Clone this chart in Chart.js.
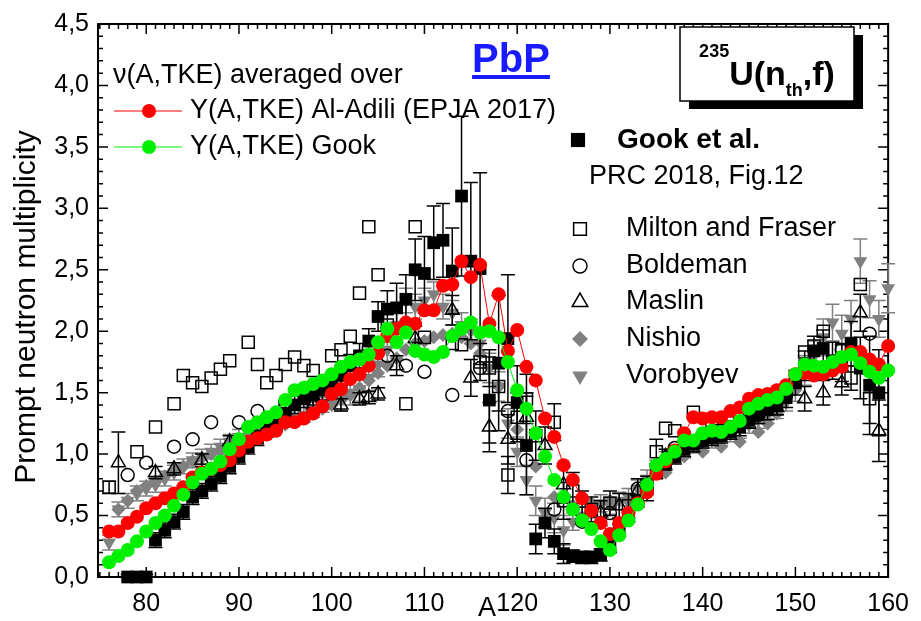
<!DOCTYPE html>
<html>
<head>
<meta charset="utf-8">
<script src="https://cdn.jsdelivr.net/npm/chart.js@4.4.0/dist/chart.umd.min.js"></script>
<style>
  html, body { margin: 0; padding: 0; background: #fff; }
  canvas { display: block; }
</style>
</head>
<body>
<canvas id="c" width="921" height="621"></canvas>
<script>
const FONT = '"Liberation Sans", Arial, Helvetica, sans-serif';

// Mass numbers of the two PbP calculations
const massA = [76,77,78,79,80,81,82,83,84,85,86,87,88,89,90,91,92,93,94,95,96,97,98,99,100,
  101,102,103,104,105,106,107,108,109,110,111,112,113,114,115,116,117,118,119,120,
  121,122,123,124,125,126,127,128,129,130,131,132,133,134,135,136,137,138,139,140,
  141,142,143,144,145,146,147,148,149,150,151,152,153,154,155,156,157,158,159,160];

// nu(A) averaged over Y(A,TKE) of Al-Adili (EPJA 2017)
const nuAlAdili = [0.37,0.37,0.44,0.49,0.56,0.60,0.64,0.68,0.73,0.81,
  0.85,0.88,0.91,0.95,1.03,1.10,1.13,1.16,1.19,1.26,
  1.26,1.29,1.33,1.39,1.49,1.53,1.61,1.65,1.72,1.82,
  1.96,2.02,2.07,2.06,2.17,2.17,2.37,2.38,2.57,2.44,
  2.54,2.06,2.30,1.84,2.01,1.71,1.60,1.29,1.14,0.91,
  0.79,0.64,0.54,0.44,0.35,0.44,0.52,0.60,0.69,0.84,
  0.94,1.03,1.17,1.30,1.29,1.30,1.30,1.35,1.38,1.45,
  1.48,1.49,1.52,1.56,1.65,1.66,1.64,1.65,1.68,1.71,
  1.83,1.83,1.77,1.73,1.88];

// nu(A) averaged over Y(A,TKE) of Gook
const nuGookYield = [0.12,0.17,0.22,0.29,0.37,0.44,0.50,0.58,0.67,0.77,
  0.84,0.88,0.94,1.04,1.12,1.22,1.26,1.30,1.34,1.44,
  1.52,1.54,1.57,1.60,1.65,1.71,1.75,1.77,1.81,1.91,
  2.02,1.91,1.99,1.84,1.81,1.79,1.83,1.96,2.02,2.07,
  1.99,2.00,1.95,1.75,1.52,1.37,1.17,0.98,0.79,0.65,
  0.55,0.46,0.39,0.29,0.22,0.34,0.46,0.59,0.75,0.91,
  0.96,1.02,1.11,1.11,1.17,1.19,1.18,1.22,1.27,1.37,
  1.41,1.44,1.46,1.53,1.65,1.73,1.72,1.71,1.75,1.79,
  1.81,1.74,1.67,1.62,1.68];

// Gook et al., PRC 2018, Fig.12
const gookA = [78,79,80,81,82,83,84,85,86,87,88,89,90,91,92,93,94,95,96,97,98,99,100,
  101,102,103,104,105,106,107,108,109,110,111,112,113,114,115,116,117,118,119,120,
  121,122,123,124,125,126,127,128,129,130,131,132,133,134,135,136,137,138,139,140,
  141,142,143,144,145,146,147,148,149,150,151,152,153,154,155,156,157,158,159];
const gookNu = [0.00,0.00,0.00,
  0.30,0.38,0.45,0.53,0.65,0.70,0.76,0.82,0.90,0.98,
  1.06,1.13,1.20,1.27,1.33,1.40,1.45,1.48,1.52,1.57,
  1.64,1.72,1.80,1.92,2.12,2.18,2.19,2.26,2.50,2.47,
  2.72,2.74,2.49,3.10,2.57,2.51,1.44,1.74,1.94,1.42,
  1.07,0.31,0.44,0.29,0.19,0.17,0.16,0.16,0.18,0.25,
  0.38,0.50,0.62,0.74,0.85,0.92,0.98,1.04,1.08,1.11,
  1.13,1.15,1.18,1.22,1.28,1.32,1.36,1.40,1.46,1.58,
  1.72,1.84,1.86,1.76,1.74,1.90,1.70,1.56,1.50];
const gookErr = [0.02,0.02,0.02,
  0.06,0.06,0.06,0.06,0.06,0.06,0.06,0.06,0.06,0.06,
  0.06,0.06,0.06,0.07,0.07,0.07,0.07,0.08,0.08,0.08,
  0.08,0.09,0.10,0.10,0.12,0.15,0.20,0.20,0.25,0.30,
  0.30,0.30,0.35,0.65,0.64,0.78,0.35,0.55,0.52,0.30,
  0.40,0.12,0.12,0.10,0.08,0.05,0.05,0.05,0.05,0.05,
  0.05,0.05,0.05,0.05,0.05,0.05,0.06,0.06,0.06,0.06,
  0.06,0.06,0.06,0.07,0.07,0.07,0.08,0.08,0.08,0.10,
  0.12,0.12,0.15,0.15,0.15,0.18,0.25,0.40,0.35];

// Milton and Fraser
const miltonA = [76,79,81,83,84,85,86,87,88,89,91,92,93,94,95,96,97,98,100,101,102,103,104,105,106,
  108,109,110,113,114,116,117,118,119,120,121,122,124,125,126,128,130,132,134,135,136,137,139,
  141,144,147,150,151,152,153,155,156,157,158];
const miltonNu = [0.73,1.02,1.22,1.41,1.64,1.58,1.55,1.62,1.69,1.76,1.91,1.73,1.58,1.64,1.73,1.79,1.72,1.68,1.80,1.85,1.96,2.31,2.85,2.46,2.05,
  1.41,2.85,1.95,1.90,1.89,1.75,1.70,1.55,0.83,1.30,1.45,1.15,1.26,0.62,0.70,0.55,0.60,0.58,0.72,1.02,1.21,1.19,1.34,
  1.22,1.30,1.42,1.60,1.83,1.88,2.00,1.85,1.62,2.38,1.45];
const miltonErr = [0.05,0,0,0,0,0,0,0,0,0,0,0,0,0,0,0,0,0,0,0,0,0,0,0,0,
  0,0,0,0,0,0.15,0.15,0.2,0.15,0.2,0.2,0.2,0.15,0.15,0.15,0.1,0.1,0.1,0.1,0.1,0,0,0,
  0,0,0,0,0,0,0,0,0.1,0,0.2];

// Boldeman
const boldemanA = [78,80,83,85,87,90,92,95,98,101,104,106,108,110,113,116,119,121,124,127,130,133,137,140,143,146,149,152,155,158];
const boldemanNu = [0.83,0.93,1.06,1.12,1.26,1.26,1.35,1.42,1.52,1.66,1.87,1.80,1.72,1.67,1.48,1.70,1.35,0.95,0.55,0.45,0.52,0.72,1.05,1.12,1.22,1.32,1.48,1.68,1.85,1.98];

// Maslin
const maslinA = [77,81,83,86,89,92,95,98,101,103,104,105,107,109,113,115,117,119,121,123,125,127,129,131,133,136,139,142,145,148,151,153,155,157,159];
const maslinNu = [0.93,0.85,0.88,0.95,1.10,1.22,1.32,1.40,1.40,1.45,1.46,1.49,1.72,1.94,2.17,1.62,1.22,1.12,1.30,1.07,0.75,0.60,0.52,0.58,0.70,0.98,1.08,1.18,1.28,1.38,1.45,1.50,1.58,2.15,1.19];
const maslinErr = [0.25,0.05,0.05,0.05,0.05,0.05,0.05,0.05,0.05,0.05,0.05,0.05,0.08,0.1,0.12,0.15,0.2,0.2,0.2,0.15,0.15,0.1,0.1,0.1,0.1,0.06,0.06,0.06,0.06,0.06,0.1,0.1,0.1,0.15,0.25];

// Nishio
const nishioA = [77,78,79,80,81,82,83,84,85,86,87,88,89,90,91,92,93,94,95,96,97,98,99,100,
  101,102,103,104,105,106,107,108,109,110,111,112,113,114,115,116,
  118,120,122,124,126,128,130,132,134,136,138,140,142,144,146,147,148,149,150];
const nishioNu = [0.55,0.62,0.70,0.74,0.78,0.82,0.86,0.90,0.94,0.97,1.00,1.03,1.06,1.10,1.12,1.15,1.18,1.21,1.24,1.27,1.30,1.33,1.37,1.40,
  1.44,1.48,1.54,1.60,1.66,1.72,1.78,1.85,1.90,1.92,1.95,1.97,1.98,1.95,1.90,1.82,
  1.55,1.20,0.90,0.65,0.58,0.60,0.62,0.62,0.70,0.85,0.98,1.02,1.06,1.10,1.18,1.25,1.33,1.45,1.52];

// Vorobyev
const vorobyevA = massA;
const vorobyevNu = [0.28,0.55,0.62,0.68,0.72,0.75,0.80,0.85,0.90,0.95,
  0.98,1.02,1.06,1.10,1.14,1.17,1.20,1.22,1.25,1.28,
  1.30,1.32,1.36,1.40,1.43,1.45,1.50,1.53,1.62,1.73,
  1.85,2.05,2.25,2.20,2.25,2.30,2.20,2.15,2.05,2.00,
  1.90,1.70,1.55,1.25,1.02,0.79,0.62,0.52,0.48,0.38,
  0.45,0.50,0.55,0.60,0.58,0.62,0.65,0.72,0.80,0.88,
  0.95,1.00,1.04,1.08,1.10,1.12,1.14,1.17,1.20,1.24,
  1.28,1.32,1.36,1.42,1.55,1.68,1.80,1.95,2.07,1.98,
  2.10,2.57,2.26,2.10,2.35];
const vorobyevErr = [0.06,0.06,0.06,0.06,0.06,0.06,0.06,0.06,0.06,0.06,
  0.06,0.06,0.06,0.06,0.06,0.06,0.06,0.06,0.06,0.06,
  0.06,0.06,0.06,0.06,0.06,0.10,0.10,0.10,0.10,0.10,
  0.10,0.10,0.10,0.10,0.10,0.10,0.10,0.10,0.10,0.10,
  0.10,0.12,0.12,0.12,0.12,0.12,0.12,0.12,0.12,0.12,
  0.07,0.07,0.07,0.07,0.07,0.07,0.07,0.07,0.07,0.07,
  0.07,0.07,0.07,0.07,0.07,0.07,0.07,0.07,0.07,0.07,
  0.07,0.07,0.07,0.07,0.12,0.12,0.12,0.15,0.15,0.15,
  0.15,0.18,0.15,0.15,0.20];

// Axis tick labels
const yTickLabels = ['0,0','0,5','1,0','1,5','2,0','2,5','3,0','3,5','4,0','4,5'];
const xTickLabels = ['80','90','100','110','120','130','140','150','160'];

const RED = '#ff0000', GREEN = '#00f000', GRAY = '#808080';

const pts = (xs, ys) => xs.map((x, i) => ({x, y: ys[i]}));

const datasets = [
  { label: 'Y(A,TKE) Gook', data: pts(massA, nuGookYield), showLine: true,
    borderColor: GREEN, borderWidth: 1, pointRadius: 7, pointHoverRadius: 7,
    pointBackgroundColor: GREEN, pointBorderWidth: 0, clip: false },
  { label: 'Y(A,TKE) Al-Adili (EPJA 2017)', data: pts(massA, nuAlAdili), showLine: true,
    borderColor: RED, borderWidth: 1, pointRadius: 7, pointHoverRadius: 7,
    pointBackgroundColor: RED, pointBorderWidth: 0, clip: false },
  { label: 'Gook et al.', data: pts(gookA, gookNu), showLine: false, errors: gookErr, errorColor: '#000',
    pointStyle: 'rect', pointRadius: 9, pointBackgroundColor: '#000', pointBorderWidth: 0, clip: false },
  { label: 'Milton and Fraser', data: pts(miltonA, miltonNu), showLine: false, errors: miltonErr, errorColor: '#000',
    pointStyle: 'rect', pointRadius: 8.5, pointBackgroundColor: 'rgba(0,0,0,0)', pointBorderColor: '#000',
    pointBorderWidth: 1.5, clip: false },
  { label: 'Boldeman', data: pts(boldemanA, boldemanNu), showLine: false,
    pointStyle: 'circle', pointRadius: 6.5, pointBackgroundColor: 'rgba(0,0,0,0)', pointBorderColor: '#000',
    pointBorderWidth: 1.5, clip: false },
  { label: 'Maslin', data: pts(maslinA, maslinNu), showLine: false, errors: maslinErr, errorColor: '#000',
    pointStyle: 'triangle', pointRadius: 8, pointBackgroundColor: 'rgba(0,0,0,0)', pointBorderColor: '#000',
    pointBorderWidth: 1.5, clip: false },
  { label: 'Nishio', data: pts(nishioA, nishioNu), showLine: false,
    pointStyle: 'rectRot', pointRadius: 7, pointBackgroundColor: GRAY, pointBorderColor: GRAY,
    pointBorderWidth: 0, clip: false },
  { label: 'Vorobyev', data: pts(vorobyevA, vorobyevNu), showLine: false, errors: vorobyevErr, errorColor: GRAY,
    pointStyle: 'triangle', pointRotation: 180, pointRadius: 8, pointBackgroundColor: GRAY, pointBorderColor: GRAY,
    pointBorderWidth: 0, clip: false }
];

// Vertical error bars, drawn just beneath each dataset's own markers
const errorBars = {
  id: 'errorBars',
  beforeDatasetDraw(chart, args) {
    const ds = chart.data.datasets[args.index];
    if (!ds.errors) return;
    const ctx = chart.ctx, y = chart.scales.y;
    ctx.save();
    ctx.strokeStyle = ds.errorColor;
    ctx.lineWidth = 1.5;
    args.meta.data.forEach((el, i) => {
      const e = ds.errors[i];
      if (!e) return;
      const v = ds.data[i].y;
      const yt = y.getPixelForValue(v + e);
      const yb = y.getPixelForValue(Math.max(0, v - e));
      ctx.beginPath();
      ctx.moveTo(el.x, yt); ctx.lineTo(el.x, yb);
      ctx.moveTo(el.x - 7, yt); ctx.lineTo(el.x + 7, yt);
      ctx.moveTo(el.x - 7, yb); ctx.lineTo(el.x + 7, yb);
      ctx.stroke();
    });
    ctx.restore();
  }
};

// Boxed frame with inward ticks on all four sides
const frame = {
  id: 'frame',
  beforeDatasetsDraw(chart) {
    const {ctx, chartArea: a, scales: {x, y}} = chart;
    ctx.save();
    ctx.strokeStyle = '#000';
    ctx.lineWidth = 1.5;
    ctx.beginPath();
    for (let v = Math.ceil(x.min); v <= x.max + 1e-9; v++) {
      const px = x.getPixelForValue(v);
      const len = v % 10 === 0 ? 10 : 5;
      ctx.moveTo(px, a.bottom); ctx.lineTo(px, a.bottom - len);
      ctx.moveTo(px, a.top); ctx.lineTo(px, a.top + len);
    }
    for (let k = 0; k <= 45; k++) {
      const py = y.getPixelForValue(k / 10);
      const len = k % 5 === 0 ? 10 : 5;
      ctx.moveTo(a.left, py); ctx.lineTo(a.left + len, py);
      ctx.moveTo(a.right, py); ctx.lineTo(a.right - len, py);
    }
    ctx.stroke();
    ctx.lineWidth = 2;
    ctx.strokeRect(a.left, a.top, a.right - a.left, a.bottom - a.top);
    ctx.restore();
  }
};

function marker(ctx, style, x, y, r, fill, stroke, bw, rot) {
  ctx.save();
  ctx.fillStyle = fill;
  ctx.strokeStyle = stroke;
  ctx.lineWidth = bw;
  Chart.helpers.drawPoint(ctx, {pointStyle: style, radius: r, rotation: rot || 0, borderWidth: bw}, x, y);
  ctx.restore();
}

// Titles, legends and the reaction label
const annotations = {
  id: 'annotations',
  afterDatasetsDraw(chart) {
    const ctx = chart.ctx;
    ctx.save();
    ctx.fillStyle = '#000';
    ctx.textBaseline = 'middle';
    ctx.textAlign = 'left';

    // axis titles
    ctx.font = '30px ' + FONT;
    ctx.save();
    ctx.translate(27, 307);
    ctx.rotate(-Math.PI / 2);
    ctx.textAlign = 'center';
    ctx.fillText('Prompt neutron multiplicity', 0, 0);
    ctx.restore();
    ctx.font = '27px ' + FONT;
    ctx.textAlign = 'center';
    ctx.fillText('A', 487, 609);
    ctx.textAlign = 'left';

    // left legend
    ctx.fillText('\u03bd(A,TKE) averaged over', 113, 76);
    ctx.strokeStyle = RED; ctx.lineWidth = 1;
    ctx.beginPath(); ctx.moveTo(114, 111); ctx.lineTo(182, 111); ctx.stroke();
    marker(ctx, 'circle', 149, 111, 7, RED, RED, 0);
    ctx.fillText('Y(A,TKE) Al-Adili (EPJA 2017)', 190, 111);
    ctx.strokeStyle = GREEN;
    ctx.beginPath(); ctx.moveTo(114, 147); ctx.lineTo(182, 147); ctx.stroke();
    marker(ctx, 'circle', 149, 147, 7, GREEN, GREEN, 0);
    ctx.fillText('Y(A,TKE) Gook', 190, 147);

    // right legend
    marker(ctx, 'rect', 578, 140, 10, '#000', '#000', 0);
    ctx.font = 'bold 28px ' + FONT;
    ctx.fillText('Gook et al.', 617, 140);
    ctx.font = '27px ' + FONT;
    ctx.fillText('PRC 2018, Fig.12', 589, 177);
    const rows = [
      ['Milton and Fraser', 229, 'rect', 9, 'rgba(0,0,0,0)', '#000', 1.5, 0],
      ['Boldeman', 266, 'circle', 7, 'rgba(0,0,0,0)', '#000', 1.5, 0],
      ['Maslin', 302, 'triangle', 9, 'rgba(0,0,0,0)', '#000', 1.5, 0],
      ['Nishio', 339, 'rectRot', 8, GRAY, GRAY, 0, 0],
      ['Vorobyev', 376, 'triangle', 9, GRAY, GRAY, 0, 180]
    ];
    rows.forEach(([t, yy, st, r, f, s, bw, rot]) => {
      marker(ctx, st, 580, yy, r, f, s, bw, rot);
      ctx.fillStyle = '#000';
      ctx.fillText(t, 626, yy);
    });

    // PbP heading
    ctx.fillStyle = '#1a1aff';
    ctx.font = 'bold 40px ' + FONT;
    ctx.textAlign = 'center';
    ctx.textBaseline = 'alphabetic';
    ctx.fillText('PbP', 511, 72);
    const wP = ctx.measureText('PbP').width;
    ctx.fillRect(511 - wP / 2, 75, wP, 4);

    // reaction label box with drop shadow
    ctx.fillStyle = '#000';
    ctx.fillRect(689, 35, 174, 74);
    ctx.fillStyle = '#fff';
    ctx.fillRect(680, 27, 174, 74);
    ctx.strokeStyle = '#000'; ctx.lineWidth = 1.5;
    ctx.strokeRect(680, 27, 174, 74);
    const parts = [['235', 18, 57], ['U(n', 34, 85], ['th', 18, 96], [',f)', 34, 85]];
    ctx.textAlign = 'left';
    let total = 0;
    parts.forEach(p => { ctx.font = 'bold ' + p[1] + 'px ' + FONT; p.push(ctx.measureText(p[0]).width); total += p[3]; });
    let cx = 767 - total / 2;
    ctx.fillStyle = '#000';
    parts.forEach(p => { ctx.font = 'bold ' + p[1] + 'px ' + FONT; ctx.fillText(p[0], cx, p[2]); cx += p[3]; });
    ctx.restore();
  }
};

new Chart(document.getElementById('c'), {
  type: 'scatter',
  data: { datasets },
  options: {
    responsive: false,
    animation: false,
    devicePixelRatio: 1,
    layout: { padding: { left: 0, top: 22, right: 27, bottom: 0 } },
    plugins: { legend: { display: false }, tooltip: { enabled: false }, title: { display: false } },
    scales: {
      x: {
        type: 'linear', min: 74.8, max: 160,
        afterFit: s => { s.height = 44; },
        grid: { display: false, drawTicks: false },
        border: { display: false },
        ticks: {
          stepSize: 10, includeBounds: false, autoSkip: false, maxRotation: 0, padding: 12,
          color: '#000', font: { family: FONT, size: 25 },
          callback: v => xTickLabels.includes(String(v)) ? String(v) : ''
        }
      },
      y: {
        type: 'linear', min: 0, max: 4.5,
        afterFit: s => { s.width = 98; },
        grid: { display: false, drawTicks: false },
        border: { display: false },
        ticks: {
          stepSize: 0.5, padding: 9, color: '#000', font: { family: FONT, size: 25 },
          callback: v => yTickLabels[Math.round(v * 2)]
        }
      }
    }
  },
  plugins: [frame, errorBars, annotations]
});
</script>
</body>
</html>
